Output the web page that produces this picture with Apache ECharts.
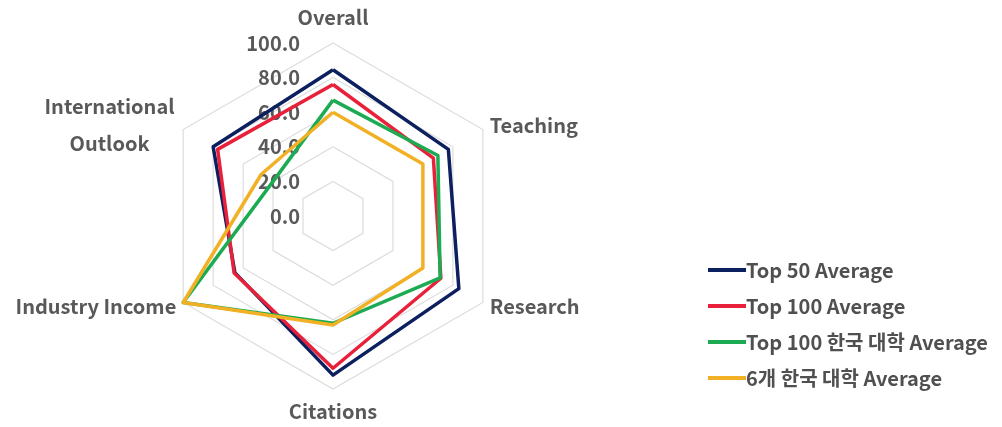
<!DOCTYPE html>
<html>
<head>
<meta charset="utf-8">
<script src="https://cdn.jsdelivr.net/npm/echarts@6/dist/echarts.min.js"></script>
<style>
html,body{margin:0;padding:0;background:#fff;}
#chart{width:1002px;height:427px;}
</style>
</head>
<body>
<div id="chart"></div>
<script>
// Indicators in ECharts (counter-clockwise from top) order
const indicatorNames = ['Overall', 'International Outlook', 'Industry Income', 'Citations', 'Research', 'Teaching'];
const seriesNames = ['Top 50 Average', 'Top 100 Average', 'Top 100 한국 대학 Average', '6개 한국 대학 Average'];
const top50 = [84.5, 80, 65.5, 92, 84, 77];
const top100 = [76, 77, 66, 88, 72, 67];
const top100Korea = [67, 40, 100, 62, 71.5, 70];
const six_korea = [60, 48, 100, 63, 60, 60];
const colors = ['#0c1f5e', '#e8203a', '#1caa52', '#f2b124'];

const seriesValues = [top50, top100, top100Korea, six_korea];
const FONT = '"Noto Sans CJK KR", "Noto Sans", sans-serif';
const nameGaps = [16, 10, 8, 12, 8, 8];

const chart = echarts.init(document.getElementById('chart'));
chart.setOption({
  animation: false,
  color: colors,
  legend: {
    orient: 'vertical',
    left: 703,
    top: 255,
    itemWidth: 38,
    itemHeight: 4,
    itemGap: 16,
    icon: 'rect',
    textStyle: { fontFamily: FONT, fontSize: 20, fontWeight: 'bold', color: '#505050', padding: [0, 0, 0, -5] },
    data: seriesNames
  },
  radar: {
    center: [333, 216],
    radius: 173,
    shape: 'polygon',
    splitNumber: 5,
    nameGap: 8,
    axisName: {
      fontFamily: FONT, fontSize: 20, fontWeight: 'bold', color: '#595959',
      formatter: function (name) {
        if (name === 'International Outlook') {
          return '{c|International}\n{c|Outlook}';
        }
        return name;
      },
      rich: {
        c: { width: 130, align: 'center', lineHeight: 37, fontFamily: FONT, fontSize: 20, fontWeight: 'bold', color: '#595959' }
      }
    },
    axisLine: { show: false },
    axisTick: { show: false },
    splitArea: { show: false },
    splitLine: { lineStyle: { color: '#dcdcdc', width: 1.2 } },
    axisLabel: { show: false },
    indicator: indicatorNames.map((n, i) => {
      const o = { name: n, min: 0, max: 100, nameGap: nameGaps[i] };
      if (i === 0) {
        o.axisLabel = {
          show: true, fontFamily: FONT, fontSize: 20, fontWeight: 'bold', color: '#595959',
          margin: 33, formatter: v => Number(v).toFixed(1)
        };
      }
      return o;
    })
  },
  series: [{
    type: 'radar',
    symbol: 'none',
    data: seriesValues.map((vals, i) => ({
      name: seriesNames[i],
      value: vals,
      lineStyle: { width: 3.5, color: colors[i] },
      itemStyle: { color: colors[i] }
    }))
  }]
});
</script>
</body>
</html>
